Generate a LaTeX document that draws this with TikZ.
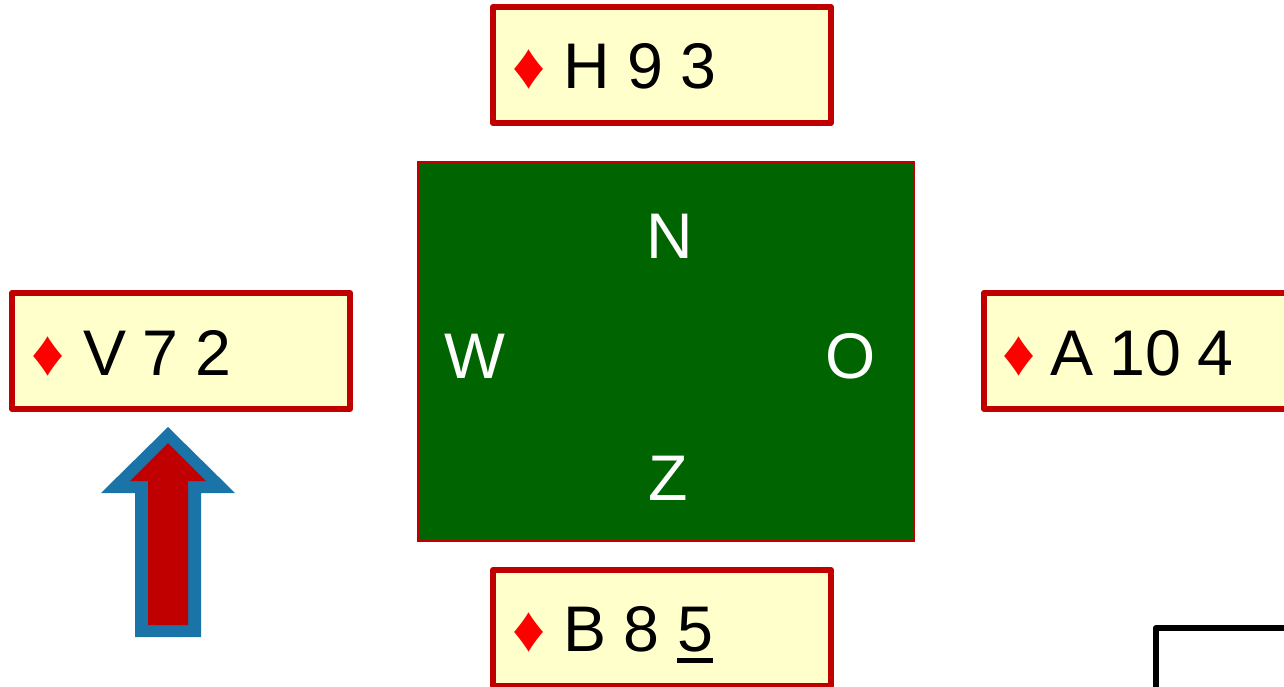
\documentclass[tikz,border=0pt]{standalone}
\usepackage{fontspec}
\setmainfont{Liberation Sans}
\definecolor{boxred}{HTML}{C00000}
\definecolor{cream}{HTML}{FFFFCC}
\definecolor{felt}{HTML}{006400}
\definecolor{arrowblue}{HTML}{1A74A8}
\definecolor{suitred}{HTML}{FF0000}
\newcommand{\bigfont}{\fontsize{64.5}{78}\selectfont\spaceskip=16.5pt\relax}
\newcommand{\suitfont}{\fontsize{65}{78}\selectfont}
\tikzset{
  handbox/.style={draw=boxred,fill=cream,line width=6pt,line join=round,minimum width=338pt,minimum height=116pt,inner sep=0pt,anchor=north west},
  handtext/.style={inner sep=0pt,anchor=base west,text=black,font=\bigfont},
  suit/.style={inner sep=0pt,anchor=base,text=suitred,font=\suitfont},
  compass/.style={inner sep=0pt,anchor=base,text=white,font=\bigfont},
}
\begin{document}
\begin{tikzpicture}[x=1pt,y=-1pt]
\useasboundingbox (0,0) rectangle (1284,687);
\clip (0,0) rectangle (1284,687);
\fill[white] (0,0) rectangle (1284,687);
\node[draw=boxred,fill=felt,line width=2pt,minimum width=496pt,minimum height=379pt,inner sep=0pt,anchor=north west] (table) at (417,161) {};
\node[compass] (n) at (669.5,258) {N};
\node[compass] (w) at (475,378) {W};
\node[compass] (o) at (850.5,378) {O};
\node[compass] (z) at (668.5,500) {Z};
\node[handbox] (north) at (490,4) {};
\node[handbox] (west) at (9,290) {};
\node[handbox] (east) at (981,290) {};
\node[handbox] (south) at (490,567) {};
\node[suit] (sn) at (529.5,89) {♦};
\node[suit] (sw) at (48,375) {♦};
\node[suit] (se) at (1019,375) {♦};
\node[suit] (ss) at (529.5,651.5) {♦};
\node[handtext] (tn) at (563,89) {\spaceskip=17.5pt\relax H 9 3};
\node[handtext] (tw) at (83,375) {V 7 2};
\node[handtext] (te) at (1050,375) {A 10 4};
\node[handtext] (ts) at (563,651.5) {\spaceskip=17.5pt\relax B 8 \rlap{\rule[-11.5pt]{36pt}{5pt}}5};
\fill[arrowblue] (168,427) -- (235,493) -- (201,493) -- (201,637) -- (135,637) -- (135,493) -- (101,493) -- cycle;
\fill[boxred] (168,443) -- (206,481) -- (188,481) -- (188,625) -- (148,625) -- (148,481) -- (130,481) -- cycle;
\draw[black,line width=6pt,line join=round] (1156,700) -- (1156,628) -- (1300,628);
\end{tikzpicture}
\end{document}
